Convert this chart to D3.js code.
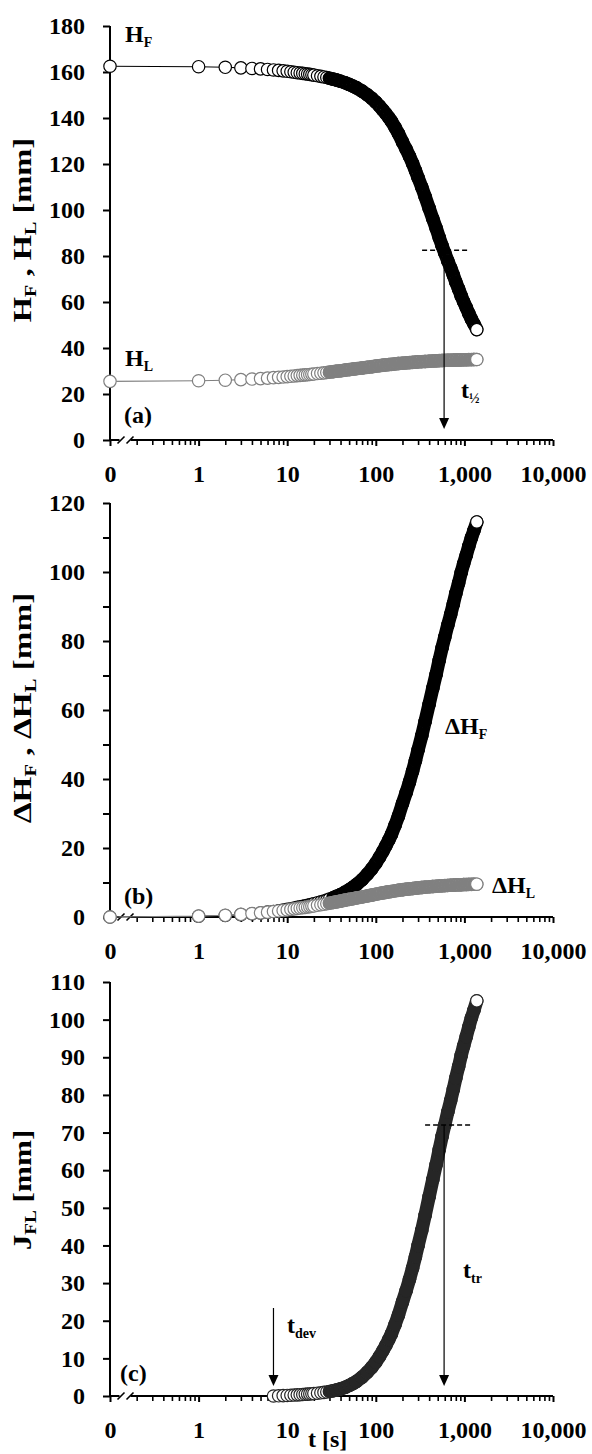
<!DOCTYPE html>
<html><head><meta charset="utf-8">
<script src="https://cdn.jsdelivr.net/npm/d3@7"></script>
<style>
body{margin:0;background:#fff;}
svg text{font-family:"Liberation Serif","Times New Roman",serif;font-weight:bold;fill:#000;}
</style></head><body>
<svg id="c" width="592" height="1454"></svg>
<script>
// ---- data ----
const times = [0,1,2,3,4,5,6,7,8,9,10,11,12,13,14,15,16,17,18,19,20,22,24,26,28,30,33,36,40,45,50,55,60,70,80,90,100,110,120,130,140,150,165,180,200,220,240,260,280,300,330,360,400,440,480,520,560,600,650,700,750,800,860,920,980,1050,1120,1200,1280,1380];
const hF = [162.5,162.3,162.05,161.8,161.55,161.35,161.1,160.9,160.7,160.5,160.3,160.1,159.9,159.7,159.55,159.4,159.25,159.1,158.95,158.8,158.65,158.35,158.1,157.85,157.6,157.3,156.9,156.5,156.0,155.3,154.6,153.9,153.2,151.7,150.1,148.55,146.9,145.2,143.5,141.85,140.2,138.6,135.9,133.25,129.6,126.45,123.35,120.25,117.15,114.05,109.95,105.85,100.75,96.15,92.1,88.0,84.45,81.4,77.85,74.8,71.75,68.7,65.7,62.65,60.1,57.6,55.05,52.55,50.5,48.0];
const hL = [25.5,25.75,26.0,26.25,26.5,26.7,26.9,27.1,27.25,27.4,27.55,27.7,27.85,28.0,28.1,28.2,28.3,28.4,28.5,28.6,28.7,28.9,29.05,29.2,29.35,29.5,29.7,29.9,30.1,30.4,30.6,30.8,31.0,31.3,31.6,31.85,32.1,32.3,32.5,32.65,32.8,32.9,33.1,33.25,33.4,33.55,33.65,33.75,33.85,33.95,34.05,34.15,34.25,34.35,34.4,34.5,34.55,34.6,34.65,34.7,34.75,34.8,34.8,34.85,34.9,34.9,34.95,34.95,35.0,35.0];
const dHF = [0,0.2,0.45,0.7,0.95,1.15,1.4,1.6,1.8,2.0,2.2,2.4,2.6,2.8,2.95,3.1,3.25,3.4,3.55,3.7,3.85,4.15,4.4,4.65,4.9,5.2,5.6,6.0,6.5,7.2,7.9,8.6,9.3,10.8,12.4,13.95,15.6,17.3,19.0,20.65,22.3,23.9,26.6,29.25,32.9,36.05,39.15,42.25,45.35,48.45,52.55,56.65,61.75,66.35,70.4,74.5,78.05,81.1,84.65,87.7,90.75,93.8,96.8,99.85,102.4,104.9,107.45,109.95,112.0,114.5];
const dHL = [0,0.25,0.5,0.75,1.0,1.2,1.4,1.6,1.75,1.9,2.05,2.2,2.35,2.5,2.6,2.7,2.8,2.9,3.0,3.1,3.2,3.4,3.55,3.7,3.85,4.0,4.2,4.4,4.6,4.9,5.1,5.3,5.5,5.8,6.1,6.35,6.6,6.8,7.0,7.15,7.3,7.4,7.6,7.75,7.9,8.05,8.15,8.25,8.35,8.45,8.55,8.65,8.75,8.85,8.9,9.0,9.05,9.1,9.15,9.2,9.25,9.3,9.3,9.35,9.4,9.4,9.45,9.45,9.5,9.5];
const jTimes = [7,8,9,10,11,12,13,14,15,16,17,18,19,20,22,24,26,28,30,33,36,40,45,50,55,60,70,80,90,100,110,120,130,140,150,165,180,200,220,240,260,280,300,330,360,400,440,480,520,560,600,650,700,750,800,860,920,980,1050,1120,1200,1280,1380];
const jFL = [0,0.05,0.1,0.15,0.2,0.25,0.3,0.35,0.4,0.45,0.5,0.55,0.6,0.65,0.75,0.85,0.95,1.05,1.2,1.4,1.6,1.9,2.3,2.8,3.3,3.8,5.0,6.3,7.6,9.0,10.5,12.0,13.5,15.0,16.5,19.0,21.5,25.0,28.0,31.0,34.0,37.0,40.0,44.0,48.0,53.0,57.5,61.5,65.5,69.0,72.0,75.5,78.5,81.5,84.5,87.5,90.5,93.0,95.5,98.0,100.5,102.5,105.0];

const xTickValues = [0.1,1,10,100,1000,10000];
const xTickLabels = ["0","1","10","100","1,000","10,000"];
const yTicksA = [0,20,40,60,80,100,120,140,160,180];
const yTicksB = [0,10,20,30,40,50,60,70,80,90,100,110,120];
const yTicksC = [0,10,20,30,40,50,60,70,80,90,100,110];

const tHalf = 590, hHalf = 82.5;
const tTr = 590, jTr = 72;
const tDev = 7;

// ---- drawing ----
const svg = d3.select("#c");
const FS = 24;     // tick labels / annotations
const FT = 26;     // axis titles
const x = d3.scaleLog().domain([0.1, 10000]).range([110, 553]);
const xp = t => x(t <= 0 ? 0.1 : t);

const minorX = [];
[0.1,1,10,100,1000].forEach(d => { for (let k=2;k<=9;k++) minorX.push(k*d); });

function styleText(sel) {
  sel.style("font-size",FS+"px").attr("font-family","Liberation Serif").attr("font-weight","bold").attr("fill","#000");
}

function drawAxes(y, ticks, labelEvery) {
  const y0 = y(0);
  const g = svg.append("g");
  g.append("line").attr("x1",110).attr("x2",110).attr("y1",y.range()[1]).attr("y2",y0)
    .attr("stroke","#000").attr("stroke-width",2);
  const ya = d3.axisLeft(y).tickValues(ticks).tickSize(7).tickPadding(18)
    .tickFormat(d => (d % labelEvery === 0 ? d : ""));
  const yg = g.append("g").attr("transform","translate(110,0)").call(ya);
  yg.select(".domain").remove();
  yg.selectAll("line").attr("stroke","#000").attr("stroke-width",2);
  styleText(yg.selectAll("text"));
  g.append("line").attr("x1",109).attr("x2",119.5).attr("y1",y0).attr("y2",y0).attr("stroke","#000").attr("stroke-width",2);
  g.append("line").attr("x1",130.5).attr("x2",553).attr("y1",y0).attr("y2",y0).attr("stroke","#000").attr("stroke-width",2);
  [121, 130].forEach(cx => {
    g.append("line").attr("x1",cx-3.5).attr("y1",y0+3.5).attr("x2",cx+3.5).attr("y2",y0-3.5)
      .attr("stroke","#000").attr("stroke-width",1.6);
  });
  const xa = d3.axisBottom(x).tickValues(xTickValues).tickSize(6).tickPadding(19)
    .tickFormat((d,i) => xTickLabels[i]);
  const xg = g.append("g").attr("transform",`translate(0,${y0})`).call(xa);
  xg.select(".domain").remove();
  xg.selectAll("line").attr("stroke","#000").attr("stroke-width",2);
  styleText(xg.selectAll("text"));
  const xm = d3.axisBottom(x).tickValues(minorX).tickSize(5).tickFormat("");
  const xmg = g.append("g").attr("transform",`translate(0,${y0})`).call(xm);
  xmg.select(".domain").remove();
  xmg.selectAll("line").attr("stroke","#000").attr("stroke-width",1.6);
}

function drawSeries(ts, vs, y, color, lineColor) {
  const g = svg.append("g");
  const pts = ts.map((t,i) => [xp(t), y(vs[i])]);
  g.append("path").attr("d", d3.line()(pts)).attr("fill","none").attr("stroke",lineColor).attr("stroke-width",1.1);
  pts.forEach((p,i) => {
    if (i > 0) {
      const q = pts[i-1];
      const d = Math.hypot(p[0]-q[0], p[1]-q[1]);
      const dt = ts[i] - ts[i-1];
      if (d / dt < 1.3) {
        g.append("line").attr("x1",q[0]).attr("y1",q[1]).attr("x2",p[0]).attr("y2",p[1])
          .attr("stroke",color).attr("stroke-width",13.4).attr("stroke-linecap","round");
      }
    }
    g.append("circle").attr("cx",p[0]).attr("cy",p[1]).attr("r",6.2)
      .attr("fill","#fff").attr("stroke",color).attr("stroke-width",1.2);
  });
}

function text(xx, yy, parts, opts={}) {
  const fs = opts.fs || FS;
  const t = svg.append("text").style("font-size",fs+"px");
  if (opts.rotate) {
    t.attr("x",0).attr("y",0).attr("text-anchor","middle")
     .attr("transform",`translate(${xx},${yy}) rotate(-90) scale(${opts.stretch||1},1)`);
  } else {
    t.attr("x",xx).attr("y",yy);
  }
  parts.forEach(p => {
    const s = t.append("tspan").text(p[0]);
    if (p[1] === "sub") s.style("font-size",Math.round(fs*0.6)+"px").attr("dy",5);
    else if (p[1] === "back") s.style("font-size",fs+"px").attr("dy",-5);
    else s.style("font-size",fs+"px");
  });
  return t;
}

function arrow(xx, y1, y2) {
  svg.append("line").attr("x1",xx).attr("x2",xx).attr("y1",y1).attr("y2",y2-9).attr("stroke","#000").attr("stroke-width",1.2);
  svg.append("path").attr("d",`M${xx-5},${y2-11}L${xx+5},${y2-11}L${xx},${y2}Z`).attr("fill","#000");
}
function dashed(x1, x2, yy) {
  svg.append("line").attr("x1",x1).attr("x2",x2).attr("y1",yy).attr("y2",yy)
    .attr("stroke","#000").attr("stroke-width",1.5).attr("stroke-dasharray","5,3");
}

// Panel (a)
const yA = d3.scaleLinear().domain([0,180]).range([440,26]);
drawAxes(yA, yTicksA, 20);
drawSeries(times, hF, yA, "#000", "#000");
drawSeries(times, hL, yA, "#808080", "#808080");
dashed(x(tHalf)-22, x(tHalf)+24, yA(hHalf));
arrow(x(tHalf), yA(hHalf), 429);
text(125, 42, [["H"],["F","sub"]]);
text(125, 366, [["H"],["L","sub"]]);
text(124, 423, [["(a)"]]);
text(461, 398, [["t"],["½","sub"]]);
text(31, 230, [["H"],["F","sub"],[" , H","back"],["L","sub"],[" [mm]","back"]], {rotate:true, fs:FT, stretch:1.25});

// Panel (b)
const yB = d3.scaleLinear().domain([0,120]).range([917,503]);
drawAxes(yB, yTicksB, 20);
drawSeries(times, dHF, yB, "#000", "#000");
drawSeries(times, dHL, yB, "#808080", "#808080");
text(124, 904, [["(b)"]]);
text(445, 734, [["ΔH"],["F","sub"]]);
text(492, 893, [["ΔH"],["L","sub"]]);
text(31, 708, [["ΔH"],["F","sub"],[" , ΔH","back"],["L","sub"],[" [mm]","back"]], {rotate:true, fs:FT, stretch:1.28});

// Panel (c)
const yC = d3.scaleLinear().domain([0,110]).range([1396,982]);
drawAxes(yC, yTicksC, 10);
drawSeries(jTimes, jFL, yC, "#262626", "#262626");
dashed(x(tTr)-19, x(tTr)+27, yC(jTr));
arrow(x(tTr), yC(jTr), 1386);
arrow(x(tDev), 1308, 1386);
text(120, 1381, [["(c)"]]);
text(287, 1333, [["t"],["dev","sub"]]);
text(463, 1278, [["t"],["tr","sub"]]);
text(308, 1447, [["t [s]"]]);
text(31, 1190, [["J"],["FL","sub"],[" [mm]","back"]], {rotate:true, fs:FT, stretch:1.2});
</script>
</body></html>
